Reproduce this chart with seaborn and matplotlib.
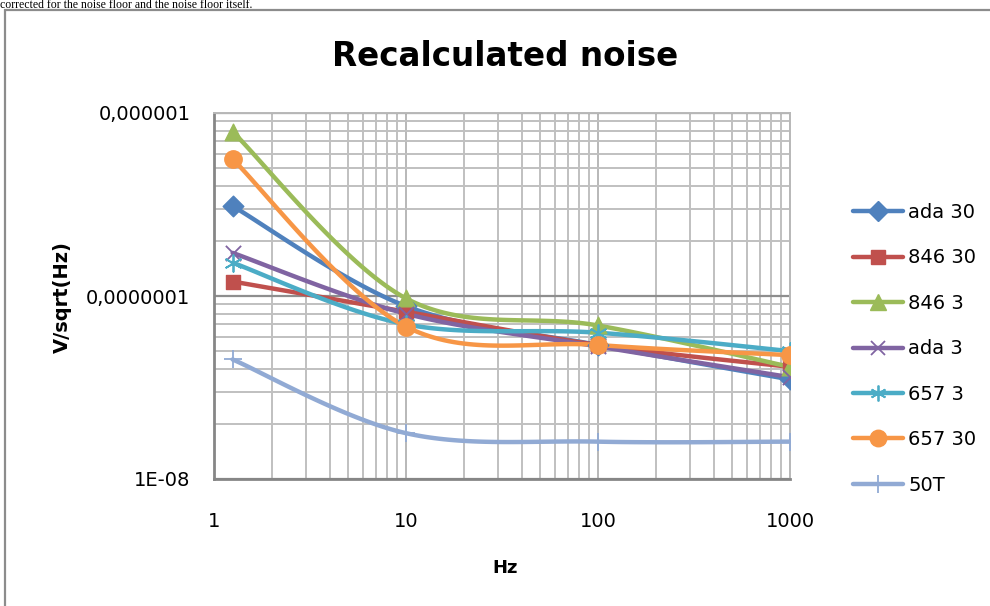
import numpy as np
import pandas as pd
import matplotlib
matplotlib.use("Agg")
import matplotlib.pyplot as plt
from matplotlib.lines import Line2D
from matplotlib.patches import Rectangle
import seaborn as sns

# ---------------- data ----------------
freqs = [1.25, 10, 100, 1000]
series_names = ["ada 30", "846 30", "846 3", "ada 3", "657 3", "657 30", "50T"]
ada_30 = [3.1e-7, 8.8e-8, 5.4e-8, 3.5e-8]
n846_30 = [1.2e-7, 8.2e-8, 5.4e-8, 4.1e-8]
n846_3 = [7.9e-7, 9.7e-8, 6.9e-8, 4.1e-8]
ada_3 = [1.72e-7, 8.0e-8, 5.3e-8, 3.6e-8]
n657_3 = [1.52e-7, 7.0e-8, 6.3e-8, 5.0e-8]
n657_30 = [5.6e-7, 6.8e-8, 5.4e-8, 4.75e-8]
n50T = [4.5e-8, 1.78e-8, 1.6e-8, 1.6e-8]
series_values = [ada_30, n846_30, n846_3, ada_3, n657_3, n657_30, n50T]

x_ticks = [1, 10, 100, 1000]
x_tick_labels = ["1", "10", "100", "1000"]
y_ticks = [1e-8, 1e-7, 1e-6]
y_tick_labels = ["1E-08", "0,0000001", "0,000001"]

title = "Recalculated noise"
x_label = "Hz"
y_label = "V/sqrt(Hz)"
caption = "corrected for the noise floor and the noise floor itself."

# ---------------- style ----------------
colors = ["#4F81BD", "#C0504D", "#9BBB59", "#8064A2", "#4BACC6", "#F79646", "#91AAD4"]
markers = ["D", "s", "^", "x", (6, 2, 0), "o", "+"]
msizes = [10.5, 10.5, 12, 11, 12, 12.5, 13]  # points (markersize)

sns.set_theme(style="white")
plt.rcParams["font.family"] = ["DejaVu Sans"]
plt.rcParams["text.color"] = "black"
plt.rcParams["axes.labelcolor"] = "black"

W, H = 990, 606
fig = plt.figure(figsize=(W / 100, H / 100), dpi=100)
ax = fig.add_axes([214 / W, 1 - 479 / H, (790 - 214) / W, (479 - 113) / H])


def smooth(xs, ys, n=40):
    """Excel-like smoothed line (Catmull-Rom Bezier) in log-log space."""
    lx = np.log10(np.asarray(xs, float))
    ly = np.log10(np.asarray(ys, float))
    P = np.column_stack([lx, ly])
    Pp = np.vstack([P[0], P, P[-1]])
    out = []
    t = np.linspace(0, 1, n)[:, None]
    for i in range(len(P) - 1):
        p0, p3 = Pp[i + 1], Pp[i + 2]
        c1 = p0 + (Pp[i + 2] - Pp[i]) / 6
        c2 = p3 - (Pp[i + 3] - Pp[i + 1]) / 6
        seg = ((1 - t) ** 3) * p0 + 3 * ((1 - t) ** 2) * t * c1 + 3 * (1 - t) * t ** 2 * c2 + t ** 3 * p3
        out.append(seg if i == 0 else seg[1:])
    out = np.vstack(out)
    return 10 ** out[:, 0], 10 ** out[:, 1]


for name, vals, col in zip(series_names, series_values, colors):
    sx, sy = smooth(freqs, vals)
    df = pd.DataFrame({"x": sx, "y": sy})
    sns.lineplot(data=df, x="x", y="y", ax=ax, color=col, lw=3.2, sort=False,
                 estimator=None, zorder=3, solid_capstyle="round")

for name, vals, col, mk, ms in zip(series_names, series_values, colors, markers, msizes):
    df = pd.DataFrame({"x": freqs, "y": vals})
    filled = mk in ("D", "s", "^", "o")
    sns.scatterplot(data=df, x="x", y="y", ax=ax, marker=mk, s=ms ** 2,
                    color=col, edgecolor=col, linewidth=1.0 if filled else 1.3,
                    zorder=4, legend=False)

ax.set_xscale("log")
ax.set_yscale("log")
ax.set_xlim(1, 1000)
ax.set_ylim(1e-8, 1e-6)
ax.set_xticks(x_ticks)
ax.set_xticklabels(x_tick_labels)
ax.set_yticks(y_ticks)
ax.set_yticklabels(y_tick_labels)
ax.tick_params(axis="both", which="both", length=0, labelsize=14, colors="black")
ax.tick_params(axis="y", pad=17)
ax.tick_params(axis="x", pad=24)

ax.grid(True, which="minor", color="#c0c0c0", lw=1.4, zorder=0)
ax.xaxis.grid(True, which="major", color="#b8b8b8", lw=1.4)
ax.yaxis.grid(True, which="major", color="#8e8e8e", lw=1.6)
ax.set_axisbelow(True)
for s in ["left", "bottom"]:
    ax.spines[s].set_color("#868686")
    ax.spines[s].set_linewidth(2)
for s in ["top", "right"]:
    ax.spines[s].set_color("#b8b8b8")
    ax.spines[s].set_linewidth(1.4)

ax.set_xlabel(x_label, fontsize=13, fontweight="bold", color="black")
ax.set_ylabel(y_label, fontsize=14, fontweight="bold", color="black")
ax.xaxis.label.set_va("center")
ax.yaxis.label.set_va("center")
ax.xaxis.set_label_coords((505 - 214) / 576, (479 - 568) / 366)
ax.yaxis.set_label_coords((62 - 214) / 576, (479 - 297) / 366)

fig.text(505 / W, 1 - 57 / H, title, ha="center", va="center",
         fontsize=23.5, fontweight="bold", color="black")

fig.text(0.0, 1 - 7.5 / H, caption, ha="left", va="baseline",
         fontsize=8.5, family=["Liberation Serif"], color="black")

fig.add_artist(Rectangle((5 / W, -0.05), 1.2, 1 - 10 / H + 0.05,
                         transform=fig.transFigure, fill=False,
                         edgecolor="#8c8c8c", lw=1.6))

handles = [Line2D([0], [0], color=c, lw=3.2, marker=m, markersize=ms * 0.95,
                  markerfacecolor=c, markeredgecolor=c,
                  markeredgewidth=1.0 if m in ("D", "s", "^", "o") else 1.3,
                  solid_capstyle="round")
           for c, m, ms in zip(colors, markers, msizes)]
fig.legend(handles, series_names, loc="upper left",
           bbox_to_anchor=(853 / W, 1 - 203 / H), frameon=False,
           fontsize=14, handlelength=2.55, handletextpad=0.3,
           labelspacing=1.36, borderpad=0, borderaxespad=0)

fig.savefig("out.png", dpi=100)
